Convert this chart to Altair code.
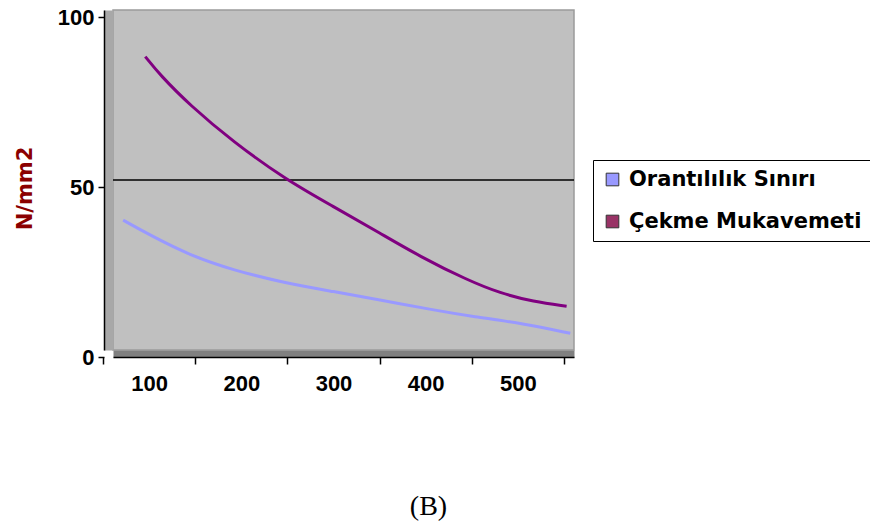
import altair as alt
import pandas as pd

# ---- data ----
series_names = ["Orantılılık Sınırı", "Çekme Mukavemeti"]

orant_x = [61, 90, 133, 180, 238, 289, 340, 397, 441, 495, 546]
orant_y = [38.2, 33.8, 27.9, 23.5, 19.6, 17.2, 14.7, 11.8, 9.8, 7.8, 4.9]

cekme_x = [85, 101, 133, 180, 238, 289, 340, 383, 434, 470, 506, 542]
cekme_y = [86.3, 80.9, 72.1, 61.3, 50.0, 42.2, 34.3, 27.5, 20.6, 16.7, 14.2, 12.9]

x_label_values = [100, 200, 300, 400, 500]
x_tick_values = [50, 150, 250, 350, 450, 550]
y_tick_values = [0, 50, 100]
grid_values = [50]
y_title = "N/mm2"
caption = "(B)"

df = pd.DataFrame(
    {
        "series": [series_names[0]] * len(orant_x) + [series_names[1]] * len(cekme_x),
        "x": orant_x + cekme_x,
        "y": orant_y + cekme_y,
    }
)
grid_df = pd.DataFrame({"y": grid_values})

x_scale = alt.Scale(domain=[50, 550], nice=False, zero=False)
y_scale = alt.Scale(domain=[0, 100], nice=False)

TICK_FONT = "Liberation Sans"

# main lines, with x labels and y axis
lines = alt.Chart(df).mark_line(interpolate="basis", strokeWidth=3).encode(
    x=alt.X(
        "x:Q",
        scale=x_scale,
        axis=alt.Axis(
            orient="bottom", values=x_label_values, ticks=False, domain=False, grid=False,
            labelFont=TICK_FONT, labelFontSize=22, labelFontWeight="bold", labelColor="black",
            labelPadding=16, offset=7, tickOffset=-10, title=None, zindex=1,
        ),
    ),
    y=alt.Y(
        "y:Q",
        scale=y_scale,
        axis=alt.Axis(
            orient="left", values=y_tick_values, grid=False, domain=True, domainColor="black",
            domainWidth=1.5, ticks=True, tickSize=6, tickColor="black", tickWidth=1.5,
            tickOffset=7, offset=9, labelFont=TICK_FONT, labelFontSize=22,
            labelFontWeight="bold", labelColor="black", labelPadding=4,
            title=y_title, titleFont="DejaVu Sans", titleFontSize=21, titleFontWeight="bold",
            titleColor="#8B0000", titlePadding=22, titleY=178, zindex=1,
        ),
    ),
    color=alt.Color(
        "series:N",
        scale=alt.Scale(domain=series_names, range=["#9999ff", "#800080"]),
        legend=None,
    ),
)

# invisible layer carrying the legend, x tick marks and the side wall
legend_layer = alt.Chart(df).mark_square(opacity=0).encode(
    x=alt.X(
        "x:Q",
        scale=x_scale,
        axis=alt.Axis(
            orient="bottom", values=x_tick_values, labels=False, ticks=True, tickSize=7,
            tickColor="black", tickWidth=1.5, domain=True, domainColor="black",
            domainWidth=1.5, grid=False, offset=7, tickOffset=-10, title=None, zindex=1,
        ),
    ),
    y=alt.Y(
        "y:Q",
        scale=y_scale,
        axis=alt.Axis(
            orient="left", labels=False, ticks=False, grid=False, domain=True,
            domainColor="#a8a8a8", domainWidth=9, offset=4.5, title=None, zindex=0,
        ),
    ),
    color=alt.Color(
        "series:N",
        scale=alt.Scale(domain=series_names, range=["#9999ff", "#993366"]),
        legend=alt.Legend(
            orient="none", legendX=480, legendY=150, title=None, symbolType="square",
            symbolSize=160, symbolOpacity=1, symbolStrokeColor="#333333",
            symbolStrokeWidth=1, labelFont="DejaVu Sans", labelFontSize=21,
            labelFontWeight="bold", labelColor="black", labelOffset=6, rowPadding=20,
            padding=9, fillColor="white", strokeColor="black", labelLimit=400,
        ),
    ),
)

# floor of the 3D box
floor_layer = alt.Chart(df).mark_point(opacity=0).encode(
    x=alt.X(
        "x:Q",
        scale=x_scale,
        axis=alt.Axis(
            orient="bottom", labels=False, ticks=False, grid=False, domain=True,
            domainColor="#808080", domainWidth=7, offset=3.5, title=None, zindex=0,
        ),
    ),
    y=alt.Y("y:Q", scale=y_scale, axis=None),
)

grid_rule = alt.Chart(grid_df).mark_rule(color="black", strokeWidth=1.5).encode(
    y=alt.Y("y:Q", scale=y_scale, axis=None)
)

chart = (
    alt.layer(floor_layer, legend_layer, grid_rule, lines)
    .resolve_scale(color="independent")
    .resolve_axis(x="independent", y="independent")
    .properties(
        width=461,
        height=340,
        background="white",
        padding={"left": 113, "top": 10, "right": 296, "bottom": 180},
        autosize=alt.AutoSizeParams(type="none"),
        title=alt.TitleParams(
            caption, orient="bottom", anchor="middle", font="Liberation Serif",
            fontSize=28, fontWeight="normal", color="black", offset=99, dx=85,
        ),
    )
    .configure_view(fill="#c0c0c0", stroke="#9a9a9a", strokeWidth=1.5)
)

chart.save("out.html", embed_options={"renderer": "svg", "actions": False})
